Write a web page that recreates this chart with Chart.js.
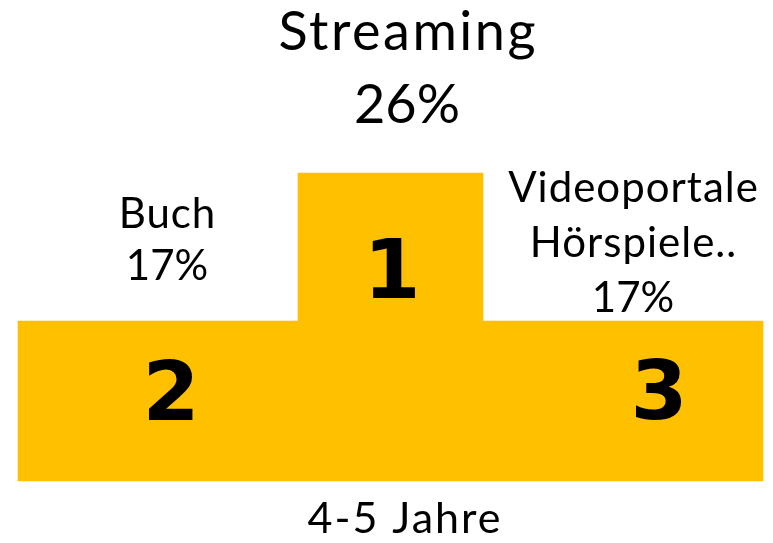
<!DOCTYPE html>
<html>
<head>
<meta charset="utf-8">
<script src="https://cdn.jsdelivr.net/npm/chart.js@4"></script>
<style>
  body { margin: 0; background: #fff; }
  #wrap { width: 773px; height: 543px; }
</style>
</head>
<body>
<div id="wrap"><canvas id="podium"></canvas></div>
<script>
// Podest: links Platz 2, Mitte Platz 1, rechts Platz 3
const places = ['2', '1', '3'];
const categories = [['Buch'], ['Streaming'], ['Videoportale', 'Hörspiele..']];
const shares = [17, 26, 17];
const podiumHeight = [1, 1.925, 1];
const ageGroup = '4-5 Jahre';

const podiumColor = '#FFC000';

// Textlage relativ zum jeweiligen Block (Pixel)
const labelLayout = [
  { dx: 9, dy: -93, size: 42, gap: 52, spacing: 1 },
  { dx: 16.5, dy: -123, size: 54, gap: 73, spacing: 2.5 },
  { dx: 10, dy: -119, size: 42, gap: 55, spacing: 1 }
];
const numberLayout = [
  { dx: 13, dy: 99 },
  { dx: 1.5, dy: 125 },
  { dx: 36, dy: 98 }
];

const podiumText = {
  id: 'podiumText',
  afterDatasetsDraw(chart) {
    const ctx = chart.ctx;
    const bars = [
      chart.getDatasetMeta(0).data[0],
      chart.getDatasetMeta(1).data[1],
      chart.getDatasetMeta(0).data[2]
    ];
    ctx.save();
    ctx.fillStyle = '#000';
    ctx.textAlign = 'center';
    ctx.textBaseline = 'alphabetic';

    bars.forEach((bar, i) => {
      const lay = labelLayout[i];
      const words = categories[i];
      ctx.font = `${lay.size}px Lato`;
      ctx.letterSpacing = lay.spacing + 'px';
      words.forEach((line, j) => {
        ctx.fillText(line, bar.x + lay.dx + lay.spacing / 2, bar.y + lay.dy + j * lay.gap);
      });
      ctx.letterSpacing = '0px';
      ctx.fillText(shares[i] + '%', bar.x + lay.dx, bar.y + lay.dy + words.length * lay.gap);

      const num = numberLayout[i];
      ctx.font = 'bold 82px "DejaVu Sans"';
      ctx.fillText(places[i], bar.x + num.dx, bar.y + num.dy);
    });

    ctx.font = '43px Lato';
    ctx.letterSpacing = '2px';
    ctx.fillText(ageGroup, 405, chart.chartArea.bottom + 52);
    ctx.restore();
  }
};

new Chart(document.getElementById('podium'), {
  type: 'bar',
  data: {
    labels: places,
    datasets: [
      {
        label: 'Platz 2 und 3',
        data: podiumHeight.map((h, i) => (i === 1 ? null : h)),
        backgroundColor: podiumColor,
        barThickness: 280,
        grouped: false,
        clip: false
      },
      {
        label: 'Platz 1',
        data: podiumHeight.map((h, i) => (i === 1 ? h : null)),
        backgroundColor: podiumColor,
        barThickness: 185,
        grouped: false,
        clip: false
      }
    ]
  },
  options: {
    responsive: true,
    maintainAspectRatio: false,
    animation: false,
    layout: { padding: { left: 41.75, right: 33.75, top: 173, bottom: 62 } },
    plugins: {
      legend: { display: false },
      tooltip: { enabled: false }
    },
    scales: {
      x: { display: false },
      y: { display: false, min: 0, max: Math.max(...podiumHeight) }
    }
  },
  plugins: [podiumText]
});
</script>
</body>
</html>
